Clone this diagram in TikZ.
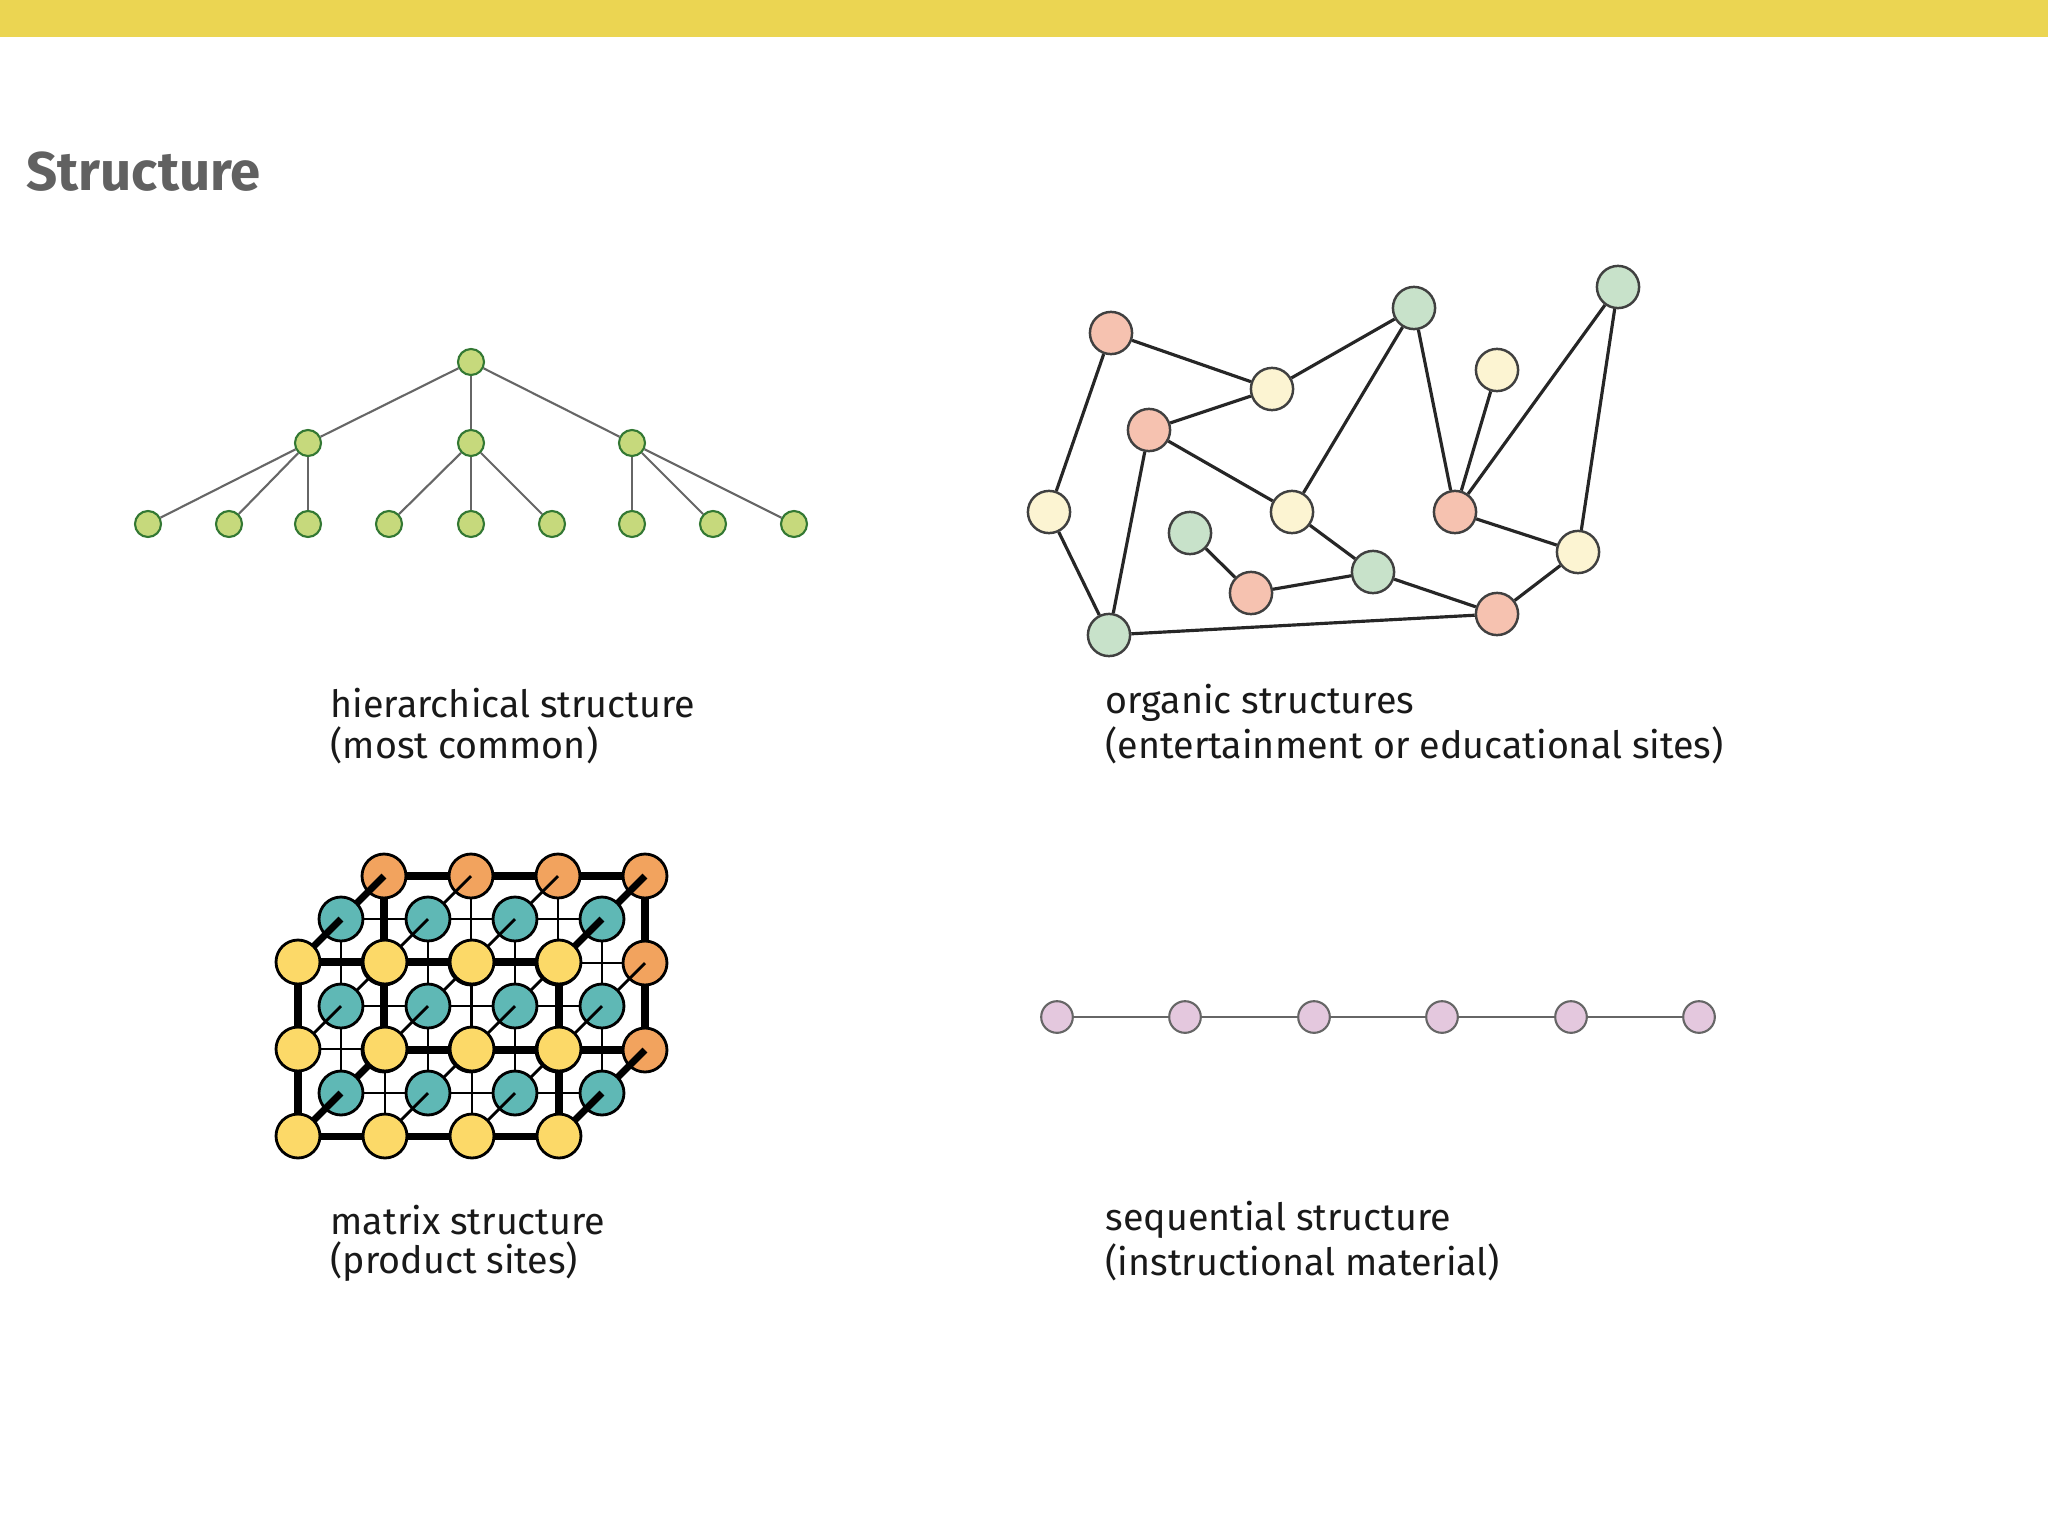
\documentclass[tikz,border=0pt]{standalone}
\usepackage{fontspec}
\setmainfont{Fira Sans}
\begin{document}
\begin{tikzpicture}[x=0.01cm,y=-0.01cm,
  hnode/.style={circle,draw=black!55!green!60!gray,fill=hgreen,line width=0.6pt,minimum size=7.4pt,inner sep=0},
  hline/.style={draw=black!60,line width=0.6pt},
  onode/.style={circle,draw=black!75,line width=0.7pt,minimum size=12pt,inner sep=0},
  oline/.style={draw=black!85,line width=0.9pt},
  snode/.style={circle,draw=black!60,fill=spink,line width=0.6pt,minimum size=9pt,inner sep=0},
  mnode/.style={circle,draw=black,line width=0.8pt,minimum size=12.5pt,inner sep=0},
  lbl/.style={anchor=west,font=\fontsize{10.7}{13}\selectfont,text=black!90,inner sep=0}]
\definecolor{hgreen}{HTML}{C6D97C}
\definecolor{opink}{HTML}{F6C2B0}
\definecolor{oyel}{HTML}{FCF4D2}
\definecolor{ogreen}{HTML}{C8E2CA}
\definecolor{spink}{HTML}{E4C8DE}
\definecolor{myel}{HTML}{FCD968}
\definecolor{mteal}{HTML}{5FB8B5}
\definecolor{morange}{HTML}{F2A35E}
\definecolor{bar}{HTML}{EBD552}
\useasboundingbox (0,0) rectangle (2048,1536);
\fill[bar] (0,0) rectangle (2048,37);
\node[anchor=west,inner sep=0,font=\fontsize{15.5}{18}\selectfont\bfseries,text=black!62] (title) at (26,172) {Structure};
% hierarchy
\node[hnode] (r) at (471,362) {};
\foreach \n/\x in {a/308,b/471,c/632} \node[hnode] (\n) at (\x,443) {};
\foreach \n/\x in {1/148,2/229,3/308,4/389,5/471,6/552,7/632,8/713,9/794} \node[hnode] (l\n) at (\x,524) {};
\foreach \p/\c in {r/a,r/b,r/c,a/l1,a/l2,a/l3,b/l4,b/l5,b/l6,c/l7,c/l8,c/l9} \draw[hline] (\p) -- (\c);
\node[lbl] (t1) at (330,703) {hierarchical structure};
\node[lbl] (t2) at (330,745) {(most common)};
% organic
\foreach \n/\x/\y/\c in {A/1111/333/opink,B/1272/389/oyel,C/1414/308/ogreen,D/1618/287/ogreen,E/1497/370/oyel,F/1149/430/opink,G/1049/512/oyel,H/1292/512/oyel,I/1455/512/opink,J/1190/533/ogreen,K/1251/593/opink,L/1373/572/ogreen,M/1578/552/oyel,N/1497/614/opink,O/1109/635/ogreen}
  \node[onode,fill=\c] (\n) at (\x,\y) {};
\foreach \a/\b in {A/B,B/C,A/G,G/O,O/F,F/B,F/H,H/C,C/I,I/E,I/D,D/M,I/M,M/N,N/L,L/H,L/K,K/J,O/N}
  \draw[oline] (\a) -- (\b);
\node[lbl] (t3) at (1105,703) {organic structures};
\node[lbl] (t4) at (1105,745) {(entertainment or educational sites)};
% matrix
\foreach \k/\col in {2/morange,1/mteal,0/myel}{
  \foreach \i in {0,...,3} \foreach \j in {0,1,2}
    \coordinate (m-\i-\j-\k) at ({298+87*\i+43*\k},{962+87*\j-43*\k});
  \ifnum\k<2
    \foreach \i in {0,...,3} \foreach \j in {0,1,2}{
      \pgfmathsetmacro\w{and(or(\i==0,\i==3),or(\j==0,\j==2))?2:0.8}
      \pgfmathtruncatemacro\kp{\k+1}
      \draw[line width=\w pt] (m-\i-\j-\kp) -- (m-\i-\j-\k);}
  \fi
  \foreach \i in {0,1,2} \foreach \j in {0,1,2}{
    \pgfmathsetmacro\w{and(or(\j==0,\j==2),or(\k==0,\k==2))?2:0.8}
    \pgfmathtruncatemacro\ip{\i+1}
    \draw[line width=\w pt] (m-\i-\j-\k) -- (m-\ip-\j-\k);}
  \foreach \i in {0,...,3} \foreach \j in {0,1}{
    \pgfmathsetmacro\w{and(or(\i==0,\i==3),or(\k==0,\k==2))?2:0.8}
    \pgfmathtruncatemacro\jp{\j+1}
    \draw[line width=\w pt] (m-\i-\j-\k) -- (m-\i-\jp-\k);}
  \foreach \i in {0,...,3} \foreach \j in {0,1,2}
    \node[mnode,fill=\col] (n-\i-\j-\k) at (m-\i-\j-\k) {};
}
\node[lbl] (t5) at (330,1220) {matrix structure};
\node[lbl] (t6) at (330,1262) {(product sites)};
% sequential
\foreach \n/\x in {1/1057,2/1185,3/1314,4/1442,5/1571,6/1699} \node[snode] (s\n) at (\x,1017) {};
\foreach \a/\b in {1/2,2/3,3/4,4/5,5/6} \draw[hline] (s\a) -- (s\b);
\node[lbl] (t7) at (1105,1220) {sequential structure};
\node[lbl] (t8) at (1105,1262) {(instructional material)};
\end{tikzpicture}
\end{document}
